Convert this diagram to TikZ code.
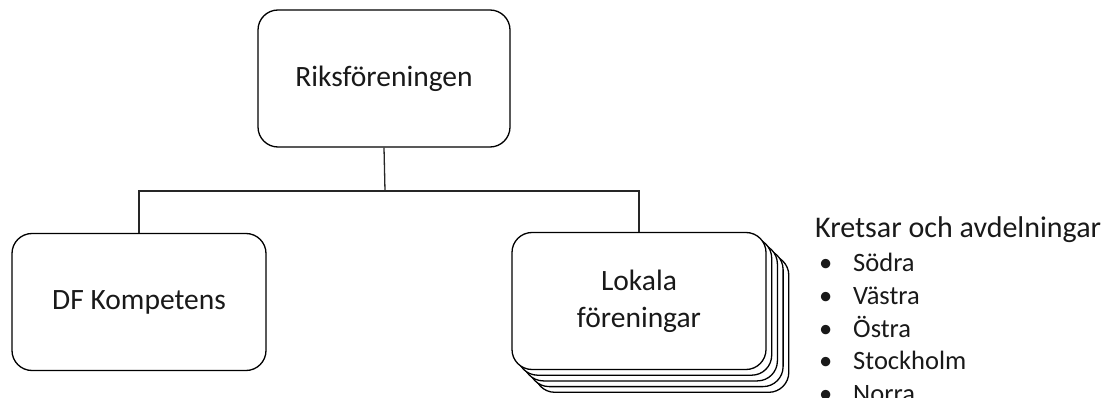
\documentclass[tikz,border=0pt]{standalone}
\usepackage{fontspec}
\setmainfont{Carlito}
\begin{document}
\begin{tikzpicture}[x=1pt,y=-1pt,
  orgbox/.style={draw=black, line width=1.3pt, rounded corners=20pt, fill=white,
    minimum width=254pt, minimum height=137pt, inner sep=0pt, align=center,
    font=\fontsize{29.5}{37}\selectfont, text=black!90},
  conn/.style={draw=black!85, line width=1.3pt},
  lbl/.style={anchor=base west, inner sep=0pt, font=\fontsize{30}{36}\selectfont, text=black!90},
  itm/.style={anchor=base west, inner sep=0pt, font=\fontsize{26.5}{32}\selectfont, text=black!90}]
\useasboundingbox (0,0) rectangle (1106,398);
\node[orgbox, minimum width=252pt] (top) at (384,78.5) {Riksföreningen};
\node[orgbox] (left) at (139,302) {DF Kompetens};
\foreach \i in {4,3,2,1} {
  \node[orgbox] (r\i) at ({639+5.7*\i},{301+5.7*\i}) {};
}
\node[orgbox] (right) at (639,301) {Lokala\\föreningar};
\coordinate (j) at (385,191);
\draw[conn] (top.south) -- (j);
\draw[conn] (left.north) |- (j) -| (right.north);
\node[lbl] (h) at (815,237) {Kretsar och avdelningar};
\foreach \t/\y [count=\k] in {Södra/272, Västra/304.5, Östra/337, Stockholm/369.5, Norra/402} {
  \node[itm] (b\k) at (819,\y) {•};
  \node[itm] (t\k) at (853,\y) {\t};
}
\end{tikzpicture}
\end{document}
